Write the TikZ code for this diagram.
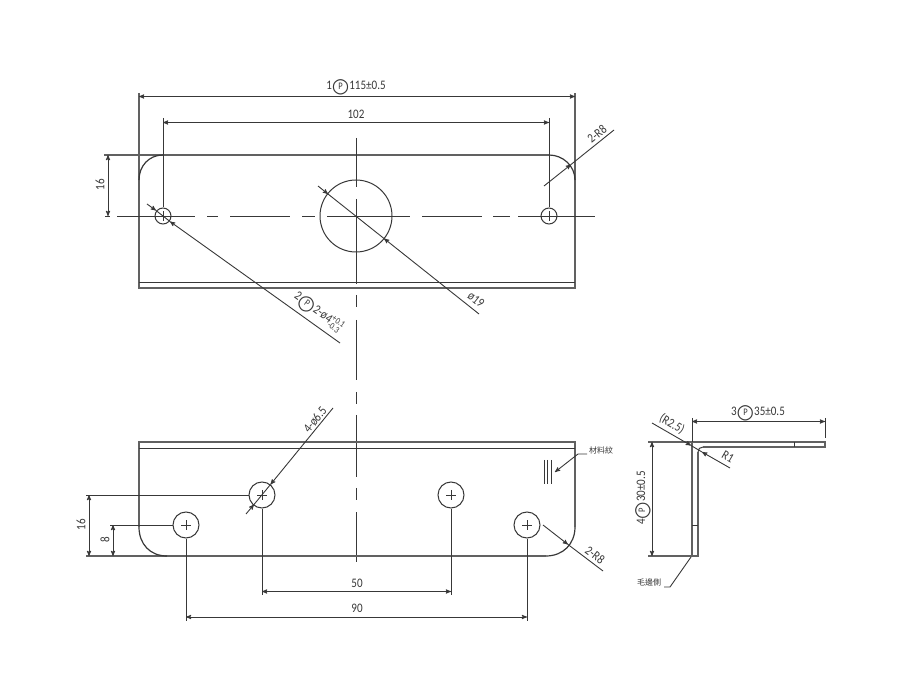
\documentclass[tikz,border=0pt]{standalone}
\usepackage{amsmath}
\usepackage{fontspec}
\setmainfont[FakeStretch=0.85]{Carlito}
\newfontfamily\symfont{DejaVu Sans}
\newfontfamily\cjkfont{Noto Sans CJK TC}
\usetikzlibrary{arrows,positioning}
\tikzset{>=stealth'}
\definecolor{inkline}{gray}{0.22}
\definecolor{edgeline}{gray}{0.38}
\tikzset{outline/.style={draw=edgeline,line width=1.2pt},
            curveline/.style={draw=inkline,line width=1.2pt},
            thinline/.style={draw=inkline,line width=.9pt},
            hole node/.style={circle,draw=inkline,line width=1pt,inner sep=0pt},
            dim label/.style={text=inkline,font=\fontsize{13}{14}\selectfont,inner sep=0pt},
            cjk label/.style={text=inkline,font=\cjkfont\fontsize{8}{9}\selectfont,inner sep=0pt},
            }
\newcommand{\partmark}{\ooalign{\hfil\fontsize{10}{10}\selectfont P\hfil\crcr\smash{\raisebox{-3.6pt}{\symfont\fontsize{20}{20}\selectfont\char"25CB}}}}

\begin{document}
\begin{tikzpicture}[x=1pt,y=-1pt]

    \useasboundingbox (0,0) rectangle (900,700);

    % top view
    \coordinate (a1) at (139,93);
    \coordinate (a2) at (575,93);
    \coordinate (c1) at (104,155);
    \draw[outline] (a1) -- (139,288) -- (575,288) -- (a2);
    \draw[outline] (c1) -- (549,155);
    \draw[curveline] (139,180) .. controls (139,166) and (149,155) .. (163,155);
    \draw[curveline] (549,155) .. controls (563,155) and (575,166) .. (575,180);
    \draw[thinline] (139,282) -- (575,282);

    \node[hole node,minimum size=16pt] (t1) at (163,216) {};
    \node[hole node,minimum size=16pt] (t2) at (549,216) {};
    \node[hole node,minimum size=72pt] (t3) at (356,216) {};

    \draw[thinline,dash pattern=on 5pt off 7pt on 78pt off 12pt on 11pt off 12pt on 60pt off 12pt on 13pt off 12pt on 83pt off 12pt on 60pt off 11pt on 17pt off 8pt on 77pt] (105,216) -- (595,216);
    \draw[thinline,dash pattern=on 49pt off 12pt on 85pt off 11pt on 12pt off 13pt on 60pt off 12pt on 12pt off 11pt on 62pt off 11pt on 12pt off 12pt on 50pt] (356,138) -- (356,562);
    \draw[thinline] (163,211) -- (163,221);
    \draw[thinline] (549,211) -- (549,221);

    % overall length
    \draw[thinline,<->] (139,96.5) -- (575,96.5);
    \node[dim label] (l115) at (356,85) {1\partmark115±0.5};

    % hole pitch
    \coordinate (b1) at (163,118);
    \coordinate (b2) at (549,118);
    \draw[thinline] (b1) -- (t1.north);
    \draw[thinline] (b2) -- (t2.north);
    \draw[thinline,<->] (163,122.5) -- (549,122.5);
    \node[dim label] (l102) at (356,114) {102};

    % height of the hole line
    \draw[thinline,<->] (108,155) -- (108,216);
    \node[dim label,rotate=90] (l16a) at (100,185) {16};

    % leaders of the top view
    \coordinate (d1) at (544,186);
    \coordinate (d2) at (614,130);
    \coordinate (d3) at (571,164.5);
    \draw[thinline,->] (d1) -- (d3);
    \draw[thinline] (d3) -- (d2);
    \node[dim label,rotate=38.7] (lr8a) at (597,134) {2-R8};

    \coordinate (e1) at (318,186);
    \coordinate (e2) at (479,314);
    \coordinate (e3) at (328,194);
    \coordinate (e4) at (384,238.5);
    \draw[thinline,->] (e1) -- (e3);
    \draw[thinline,->] (e2) -- (e4);
    \draw[thinline] (e3) -- (e4);
    \node[dim label,rotate=-38.5] (lphi) at (476,300) {ø19};

    \coordinate (f1) at (147,204);
    \coordinate (f2) at (340,343);
    \coordinate (f3) at (156,210.5);
    \coordinate (f4) at (170,221.5);
    \draw[thinline,->] (f1) -- (f3);
    \draw[thinline,->] (f2) -- (f4);
    \draw[thinline] (f3) -- (f4);
    \node[dim label,rotate=-36] (ltol) at (319,312) {2\partmark2-ø4$^{\text{+0.1}}_{\text{-0.3}}$};

    % bottom view
    \coordinate (g2) at (86,556);
    \draw[outline] (139,527) -- (139,442) -- (575,442) -- (575,527);
    \draw[outline] (g2) -- (546,556);
    \draw[curveline] (139,527) .. controls (139,544) and (150,556) .. (167,556);
    \draw[curveline] (546,556) .. controls (563,556) and (575,544) .. (575,527);
    \draw[thinline] (139,448) -- (575,448);

    \node[hole node,minimum size=26pt] (b3) at (186,525) {};
    \node[hole node,minimum size=26pt] (b4) at (262,495) {};
    \node[hole node,minimum size=26pt] (b5) at (451,495) {};
    \node[hole node,minimum size=26pt] (b6) at (527,525) {};
    \draw[thinline] (181,525) -- (191,525) (186,520) -- (186,530);
    \draw[thinline] (257,495) -- (267,495) (262,490) -- (262,500);
    \draw[thinline] (446,495) -- (456,495) (451,490) -- (451,500);
    \draw[thinline] (522,525) -- (532,525) (527,520) -- (527,530);

    % heights of the holes
    \coordinate (g1) at (86,495);
    \coordinate (g3) at (110,525);
    \draw[thinline] (g1) -- (b4.west);
    \draw[thinline] (g3) -- (b3.west);
    \draw[thinline,<->] (89,495) -- (89,556);
    \draw[thinline,<->] (113,525) -- (113,556);
    \node[dim label,rotate=90] (l16b) at (81,525) {16};
    \node[dim label,rotate=90] (l8) at (105,540) {8};

    % pitches of the holes
    \coordinate (h1) at (262,595);
    \coordinate (h2) at (451,595);
    \coordinate (h3) at (186,621);
    \coordinate (h4) at (527,621);
    \draw[thinline] (b4.south) -- (h1);
    \draw[thinline] (b5.south) -- (h2);
    \draw[thinline] (b3.south) -- (h3);
    \draw[thinline] (b6.south) -- (h4);
    \draw[thinline,<->] (262,591.5) -- (451,591.5);
    \draw[thinline,<->] (186,617) -- (527,617);
    \node[dim label] (l50) at (357,583) {50};
    \node[dim label] (l90) at (357,608) {90};

    % leaders of the bottom view
    \coordinate (i1) at (246,514);
    \coordinate (i2) at (333,408);
    \coordinate (i3) at (254,504.5);
    \coordinate (i4) at (270.5,484.5);
    \draw[thinline,->] (i1) -- (i3);
    \draw[thinline,->] (i2) -- (i4);
    \draw[thinline] (i3) -- (i4);
    \node[dim label,rotate=50.6] (lphib) at (315,420) {4-ø6.5};

    \coordinate (j1) at (543,525);
    \coordinate (j2) at (603,571);
    \coordinate (j3) at (568,544.5);
    \draw[thinline,->] (j1) -- (j3);
    \draw[thinline] (j3) -- (j2);
    \node[dim label,rotate=-37.5] (lr8b) at (595,555) {2-R8};

    % grain mark
    \draw[thinline] (544,460) -- (544,484) (547.5,460) -- (547.5,484) (551,460) -- (551,484);
    \node[cjk label] (lgrain) at (601,450) {材料紋};
    \coordinate (k1) at (555,472);
    \coordinate (k2) at (587,454);
    \draw[thinline,->] (k2) -- (578,454) -- (k1);

    % side view
    \coordinate (n1) at (648,442);
    \coordinate (n2) at (648,556);
    \draw[outline] (n1) -- (825,442) -- (825,447) -- (703,447);
    \draw[outline] (692,442) -- (692,556);
    \draw[outline] (n2) -- (698,556) -- (698,452);
    \draw[curveline,line width=1pt] (698,452) .. controls (698,449) and (700,447) .. (703,447);
    \draw[thinline] (794,442) -- (794,447);
    \draw[thinline] (692,525) -- (698,525);

    \coordinate (m1) at (692,418);
    \coordinate (m2) at (825,418);
    \draw[thinline] (m1) -- (692,442);
    \draw[thinline] (m2) -- (825,438);
    \draw[thinline,<->] (692,421.5) -- (825,421.5);
    \node[dim label] (l35) at (758,411) {3\partmark35±0.5};

    \draw[thinline,<->] (652,442) -- (652,556);
    \node[dim label,rotate=90] (l30) at (641,498) {4\partmark30±0.5};

    \coordinate (o1) at (652,423);
    \coordinate (o2) at (730,468);
    \coordinate (o3) at (691,445.5);
    \coordinate (o4) at (702,452);
    \draw[thinline,->] (o1) -- (o3);
    \draw[thinline,->] (o2) -- (o4);
    \draw[thinline] (o3) -- (o4);
    \node[dim label,rotate=-30] (lr25) at (672,424) {(R2.5)};
    \node[dim label,rotate=-30] (lr1) at (728,457) {R1};

    \node[cjk label] (lburr) at (649,582) {毛邊側};
    \coordinate (p1) at (691,557);
    \coordinate (p2) at (664,587);
    \draw[thinline] (p2) -- (670,587) -- (p1);

\end{tikzpicture}
\end{document}
